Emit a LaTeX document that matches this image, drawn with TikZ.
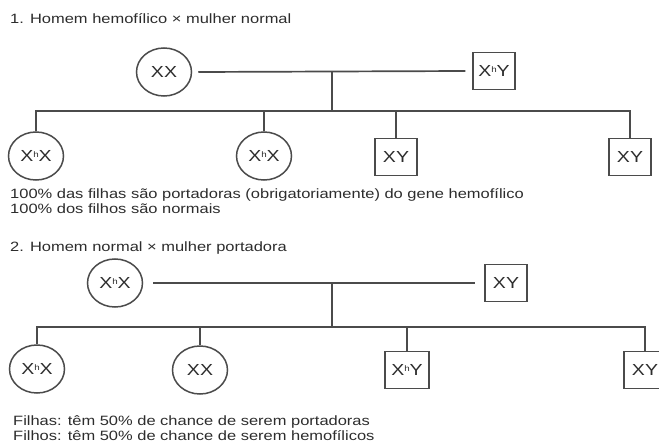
\documentclass[tikz,border=0pt]{standalone}
\usepackage{fontspec}
\setmainfont{Liberation Sans}[FakeStretch=1.22]
\usetikzlibrary{shapes.geometric}
\definecolor{ink}{RGB}{75,75,75}
\definecolor{txt}{RGB}{45,45,45}
\newcommand{\Xh}{X\raisebox{0.5ex}{\fontsize{8}{8}\selectfont h}}
\begin{document}
\begin{tikzpicture}[x=1pt,y=-1pt,
  fem/.style={ellipse, draw=ink, line width=1.5pt, minimum width=55pt, minimum height=48pt, inner sep=0pt, text=txt, font=\fontsize{16}{16}\selectfont},
  mal/.style={rectangle, draw=ink, line width=1.5pt, minimum width=42pt, minimum height=37pt, inner sep=0pt, text=txt, font=\fontsize{16}{16}\selectfont},
  lnk/.style={draw=ink, line width=1.7pt},
  lbl/.style={anchor=west, inner sep=0pt, text=txt, font=\fontsize{13.5}{14}\selectfont}]
\useasboundingbox (0,0) rectangle (659,447);
\fill[white] (0,0) rectangle (659,447);
\clip (0,0) rectangle (659,447);

% Section 1
\node[lbl] (t1) at (10,19) {1. Homem hemofílico × mulher normal};
\node[fem] (p1f) at (164,72) {XX};
\node[mal] (p1m) at (494,71) {\Xh Y};
\coordinate (m1) at (332,72);
\coordinate (s1) at (332,111);
\node[fem] (c1a) at (36,156) {\Xh X};
\node[fem] (c1b) at (264,156) {\Xh X};
\node[mal] (c1c) at (396,157) {XY};
\node[mal] (c1d) at (630,157) {XY};
\draw[lnk] ([xshift=6pt]p1f.east) -- ([xshift=-7pt]p1m.west);
\draw[lnk] (m1) -- (s1);
\draw[lnk] (c1a.north) -- (c1a.north |- s1) -- (c1d.north |- s1) -- (c1d.north);
\draw[lnk] (c1b.north) -- (c1b.north |- s1);
\draw[lnk] (c1c.north) -- (c1c.north |- s1);
\node[lbl] (r1a) at (10,195) {100\% das filhas são portadoras (obrigatoriamente) do gene hemofílico};
\node[lbl] (r1b) at (10,209) {100\% dos filhos são normais};

% Section 2
\node[lbl] (t2) at (10,248) {2. Homem normal × mulher portadora};
\node[fem] (p2f) at (115,283) {\Xh X};
\node[mal] (p2m) at (506,283) {XY};
\coordinate (m2) at (332,283);
\coordinate (s2) at (332,327);
\node[fem] (c2a) at (37,369) {\Xh X};
\node[fem] (c2b) at (200,370) {XX};
\node[mal, minimum width=44pt] (c2c) at (407,370) {\Xh Y};
\node[mal] (c2d) at (645,370) {XY};
\draw[lnk] ([xshift=10pt]p2f.east) -- ([xshift=-9pt]p2m.west);
\draw[lnk] (m2) -- (s2);
\draw[lnk] (c2a.north) -- (c2a.north |- s2) -- (c2d.north |- s2) -- (c2d.north);
\draw[lnk] (c2b.north) -- (c2b.north |- s2);
\draw[lnk] (c2c.north) -- (c2c.north |- s2);
\node[lbl] (b1) at (13,422) {Filhas: têm 50\% de chance de serem portadoras};
\node[lbl] (b2) at (13,436) {Filhos: têm 50\% de chance de serem hemofílicos};
\end{tikzpicture}
\end{document}
